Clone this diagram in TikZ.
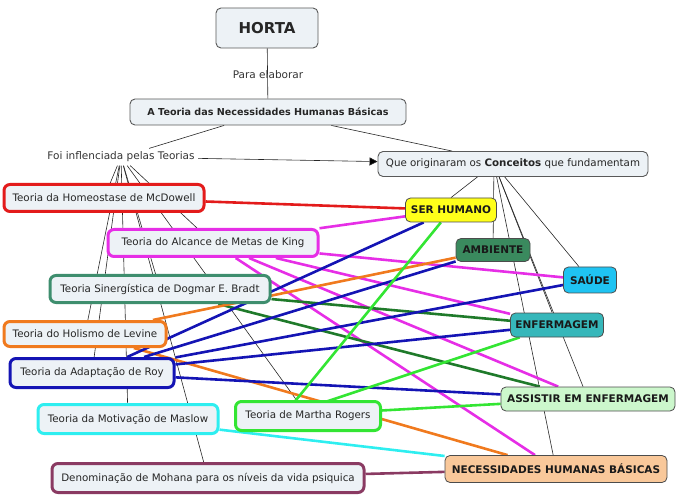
\documentclass[tikz,border=0pt]{standalone}
\usepackage{fontspec}
\setmainfont{DejaVu Sans}
\usetikzlibrary{backgrounds,arrows.meta}
\definecolor{boxfill}{HTML}{EDF2F6}
\definecolor{cRed}{HTML}{E31B1B}
\definecolor{cKing}{HTML}{E62EE6}
\definecolor{cBradt}{HTML}{3E8E6E}
\definecolor{cBradtLine}{HTML}{1F7A2A}
\definecolor{cLevine}{HTML}{F07A1E}
\definecolor{cRoy}{HTML}{1414B4}
\definecolor{cMaslow}{HTML}{2EEEF0}
\definecolor{cMartha}{HTML}{33E533}
\definecolor{cMohana}{HTML}{8A3A62}
\definecolor{cSer}{HTML}{FFFF1A}
\definecolor{cAmb}{HTML}{3A8A5E}
\definecolor{cSaude}{HTML}{1FC3F2}
\definecolor{cEnf}{HTML}{36B7BA}
\definecolor{cAssist}{HTML}{CCF7CC}
\definecolor{cNec}{HTML}{F9C89A}
\begin{document}
\begin{tikzpicture}[x=1pt,y=-1pt,
		box/.style={draw=black!65, fill=boxfill, rounded corners=5pt, line width=0.9pt, inner sep=0pt, text=black!85, font=\fontsize{10.3}{12}\selectfont},
		theory/.style={box, line width=3pt, rounded corners=6pt, minimum height=27},
		concept/.style={draw=black!70, rounded corners=5pt, line width=0.8pt, inner sep=0pt, text=black!90, font=\fontsize{10.5}{12}\selectfont\bfseries},
		phrase/.style={text=black!80, font=\fontsize{10.5}{12}\selectfont},
		link/.style={black!85, line width=0.6pt},
		tie/.style={line width=2.6pt}]
		\useasboundingbox (0,0) rectangle (681,500);
		\node[box, minimum width=102, minimum height=40, font=\fontsize{15}{18}\selectfont\bfseries] (horta) at (267,28) {HORTA};
		\node[phrase] (para) at (268,75) {Para elaborar};
		\node[box, minimum width=276, minimum height=26, font=\fontsize{9.6}{12}\selectfont\bfseries] (teoria) at (268,112) {A Teoria das Necessidades Humanas Básicas};
		\node[phrase] (foi) at (121,157) {Foi inflenciada pelas Teorias};
		\node[box, minimum width=270, minimum height=25] (que) at (513,164) {Que originaram os \textbf{Conceitos} que fundamentam};
		\coordinate (qhub) at (494,164);
		\node[theory, draw=cRed, minimum width=200] (mcdowell) at (104,198) {Teoria da Homeostase de McDowell};
		\node[theory, draw=cKing, minimum width=210] (king) at (213,243) {Teoria do Alcance de Metas de King};
		\node[theory, draw=cBradt, minimum width=220] (bradt) at (160,289) {Teoria Sinergística de Dogmar E. Bradt};
		\node[theory, draw=cLevine, minimum width=162, minimum height=25] (levine) at (85,334) {Teoria do Holismo de Levine};
		\node[theory, draw=cRoy, minimum width=164, minimum height=29] (roy) at (92,373) {Teoria da Adaptação de Roy};
		\node[theory, draw=cMaslow, minimum width=180, minimum height=29] (maslow) at (128,419) {Teoria da Motivação de Maslow};
		\node[theory, draw=cMartha, minimum width=145, minimum height=29] (martha) at (308,416) {Teoria de Martha Rogers};
		\coordinate (mrog) at (283,416);
		\node[theory, draw=cMohana, minimum width=312, minimum height=29] (mohana) at (208,478) {Denominação de Mohana para os níveis da vida psiquica};
		\node[concept, fill=cSer, minimum width=91, minimum height=24] (serhumano) at (451,210) {SER HUMANO};
		\node[concept, fill=cAmb, minimum width=74, minimum height=23] (ambiente) at (493,250) {AMBIENTE};
		\node[concept, fill=cSaude, minimum width=53, minimum height=26] (saude) at (590,280) {SAÚDE};
		\node[concept, fill=cEnf, minimum width=93, minimum height=24] (enfermagem) at (557,325) {ENFERMAGEM};
		\node[concept, fill=cAssist, minimum width=174, minimum height=24] (assistir) at (588,399) {ASSISTIR EM ENFERMAGEM};
		\node[concept, fill=cNec, minimum width=222, minimum height=27] (necessidades) at (556,469) {NECESSIDADES HUMANAS BÁSICAS};
		\begin{scope}[on background layer]
			\draw[link] (horta) -- (teoria);
			\draw[link] (teoria) -- (foi);
			\draw[link] (teoria) -- (que);
			\draw[link, -{Triangle[length=8pt,width=8pt,fill=black]}] (foi) -- (que);
			\foreach \t in {mcdowell,king,bradt,levine,roy,maslow,martha,mohana}
				\draw[link] (foi) -- (\t);
			\draw[link] (qhub) -- (serhumano.north);
			\foreach \c in {ambiente,saude,enfermagem,assistir,necessidades}
				\draw[link] (qhub) -- (\c);
			\draw[tie, cRed] (mcdowell) -- (serhumano);
			\foreach \c in {serhumano,saude,enfermagem,assistir,necessidades}
				\draw[tie, cKing] (king) -- (\c);
			\foreach \c in {enfermagem,assistir}
				\draw[tie, cBradtLine] (bradt) -- (\c);
			\foreach \c in {ambiente,necessidades}
				\draw[tie, cLevine] (levine) -- (\c);
			\foreach \c in {serhumano,ambiente,saude,enfermagem,assistir}
				\draw[tie, cRoy] (roy) -- (\c);
			\foreach \c in {serhumano,enfermagem,assistir}
				\draw[tie, cMartha] (mrog) -- (\c);
			\draw[tie, cMaslow] (maslow) -- (necessidades);
			\draw[tie, cMohana] (mohana) -- (necessidades);
		\end{scope}
	\end{tikzpicture}
\end{document}
